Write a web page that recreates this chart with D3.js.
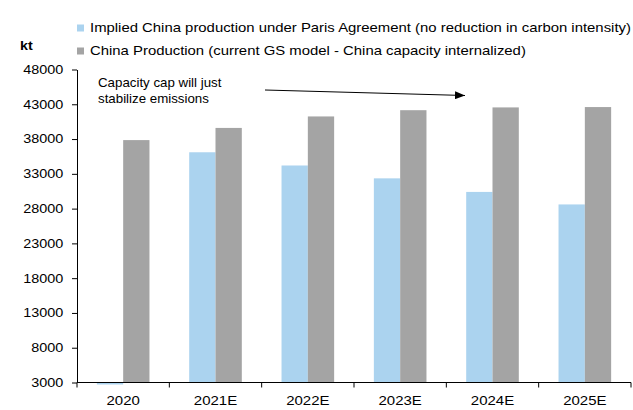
<!DOCTYPE html>
<html>
<head>
<meta charset="utf-8">
<script src="https://cdn.jsdelivr.net/npm/d3@7/dist/d3.min.js"></script>
<style>
  html, body { margin: 0; padding: 0; background: #fff; }
  svg { display: block; font-family: "Liberation Sans", Arial, sans-serif; }
</style>
</head>
<body>
<svg id="chart" width="633" height="410"></svg>
<script>
// China production outlook, kt
const years = ["2020", "2021E", "2022E", "2023E", "2024E", "2025E"];
const seriesNames = [
  "Implied China production under Paris Agreement (no reduction in carbon intensity)",
  "China Production (current GS model - China capacity internalized)"
];
const parisValues = [3000, 36100, 34200, 32350, 30400, 28600];
const gsValues    = [37850, 39600, 41250, 42150, 42550, 42600];
const yTicks = [3000, 8000, 13000, 18000, 23000, 28000, 33000, 38000, 43000, 48000];
const colors = ["#ABD3EF", "#A4A4A4"];

const svg = d3.select("#chart");
const plotLeft = 77, plotRight = 631, plotTop = 69.5, plotBottom = 382.5;
const wide = 1.2;   // horizontal stretch of the axis lettering

const x = d3.scaleBand().domain(years).range([plotLeft, plotRight]).padding(0);
const xInner = d3.scaleBand().domain([0, 1]).range([0, x.bandwidth()])
  .paddingInner(0).paddingOuter(0.755);
const y = d3.scaleLinear().domain([3000, 48000]).range([plotBottom, plotTop]);

// bars; a value sitting on the axis floor shows as a thin line under the axis
const rows = years.map((yr, i) => ({ yr, vals: [parisValues[i], gsValues[i]] }));
const g = svg.append("g");
rows.forEach(r => {
  r.vals.forEach((v, s) => {
    const h = y(3000) - y(v);
    const rect = g.append("rect")
      .attr("x", x(r.yr) + xInner(s))
      .attr("width", xInner.bandwidth())
      .attr("fill", colors[s]);
    if (h < 1) rect.attr("y", y(3000)).attr("height", 2);
    else rect.attr("y", y(v)).attr("height", h);
  });
});

// y axis
const yAxis = d3.axisLeft(y).tickValues(yTicks).tickSize(5).tickSizeOuter(0)
  .tickFormat(d3.format("d"));
const ya = svg.append("g").attr("transform", `translate(${plotLeft},0)`).call(yAxis);
ya.select(".domain").attr("stroke", "#000");
ya.selectAll(".tick line").attr("stroke", "#000");
ya.selectAll(".tick text")
  .attr("font-size", 12).attr("fill", "#000")
  .attr("font-family", "Liberation Sans, Arial, sans-serif")
  .attr("x", 0)
  .attr("text-anchor", "end")
  .attr("transform", `translate(-13.7,0) scale(${wide},1)`);

// x axis: ticks at category boundaries
const xa = svg.append("g").attr("transform", `translate(0,${plotBottom})`);
xa.append("line").attr("x1", plotLeft).attr("x2", plotRight).attr("stroke", "#000");
const bounds = years.map(d => x(d)).concat([plotRight]);
xa.selectAll("line.tk").data(bounds).enter().append("line")
  .attr("class", "tk")
  .attr("x1", d => d).attr("x2", d => d)
  .attr("y1", 0).attr("y2", 5).attr("stroke", "#000");
xa.selectAll("text").data(years).enter().append("text")
  .attr("transform", d => `translate(${x(d) + x.bandwidth() / 2},22.5) scale(${wide},1)`)
  .attr("text-anchor", "middle")
  .attr("font-size", 12.5)
  .text(d => d);

// unit label
svg.append("text")
  .attr("transform", `translate(20,49.5) scale(1.1,1)`)
  .attr("font-size", 13)
  .attr("font-weight", "bold").text("kt");

// legend
const leg = svg.append("g");
seriesNames.forEach((name, i) => {
  const base = 31.5 + i * 23;
  leg.append("rect").attr("x", 77).attr("y", base - 7).attr("width", 7).attr("height", 7)
    .attr("fill", colors[i]);
  leg.append("text")
    .attr("transform", `translate(90,${base}) scale(1.145,1)`)
    .attr("font-size", 13)
    .attr("fill", "#000").text(name);
});

// annotation with arrow
svg.append("defs").append("marker")
  .attr("id", "arrowhead").attr("viewBox", "0 0 10 8")
  .attr("refX", 10).attr("refY", 4)
  .attr("markerWidth", 10).attr("markerHeight", 8)
  .attr("markerUnits", "userSpaceOnUse")
  .attr("orient", "auto")
  .append("path").attr("d", "M0,0 L10,4 L0,8 Z").attr("fill", "#000");

const note = svg.append("text").attr("font-size", 13.3).attr("fill", "#000");
note.append("tspan").attr("x", 98).attr("y", 87).text("Capacity cap will just");
note.append("tspan").attr("x", 98).attr("y", 103).text("stabilize emissions");

svg.append("line")
  .attr("x1", 265).attr("y1", 90).attr("x2", 465).attr("y2", 95.5)
  .attr("stroke", "#000").attr("stroke-width", 1)
  .attr("marker-end", "url(#arrowhead)");
</script>
</body>
</html>
